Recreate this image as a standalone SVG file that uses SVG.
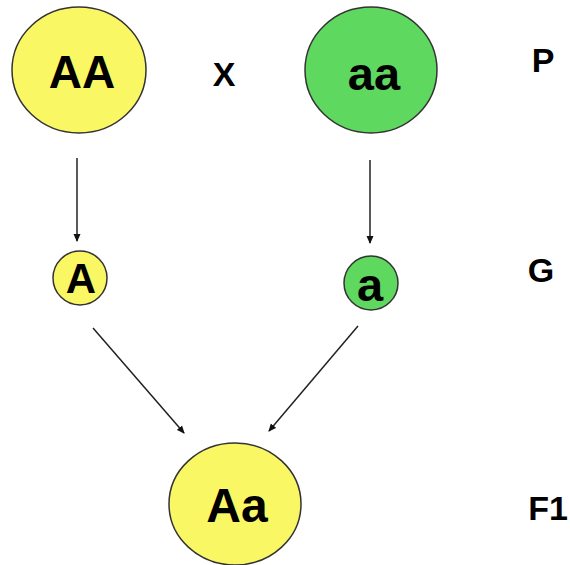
<svg xmlns="http://www.w3.org/2000/svg" width="570" height="565" viewBox="0 0 570 565">
<defs>
<style>
.y{fill:#FAF765;stroke:#333;stroke-width:1.5}
.g{fill:#5ED85E;stroke:#333;stroke-width:1.5}
.t{font-family:"Liberation Sans",Arial,sans-serif;fill:#000;text-anchor:middle}
.b{font-weight:bold}
.c line{stroke:#222;stroke-width:1.5}
</style>
<marker id="ah" markerWidth="8" markerHeight="8" refX="7" refY="4" orient="auto" markerUnits="userSpaceOnUse">
<path d="M0,0.5 L8,4 L0,7.5 Z" fill="#111"/>
</marker>
</defs>
<rect width="570" height="565" fill="#fff"/>
<g class="c" id="connectors">
<line x1="77" y1="158" x2="77" y2="241" marker-end="url(#ah)"/>
<line x1="370" y1="160" x2="370" y2="243" marker-end="url(#ah)"/>
<line x1="93" y1="328" x2="184" y2="433" marker-end="url(#ah)"/>
<line x1="358" y1="326" x2="269" y2="431" marker-end="url(#ah)"/>
</g>
<g id="AA"><ellipse class="y" cx="79" cy="70" rx="67" ry="63"/><text class="t b" x="82" y="88" font-size="46">AA</text></g>
<g id="aa"><ellipse class="g" cx="371" cy="70" rx="66" ry="63"/><text class="t b" x="374" y="90" font-size="47">aa</text></g>
<g id="A"><circle class="y" cx="80" cy="278" r="27"/><text class="t b" x="81" y="293" font-size="42">A</text></g>
<g id="a"><circle class="g" cx="371" cy="283" r="27"/><text class="t b" x="370" y="301" font-size="47">a</text></g>
<g id="Aa"><ellipse class="y" cx="235" cy="504" rx="66" ry="61"/><text class="t b" x="237" y="522" font-size="48">Aa</text></g>
<text class="t b" x="224" y="86" font-size="34">X</text>
<text class="t b" x="543" y="72" font-size="34">P</text>
<text class="t b" x="541" y="282" font-size="34">G</text>
<text class="t b" x="548" y="520" font-size="34">F1</text>
</svg>
